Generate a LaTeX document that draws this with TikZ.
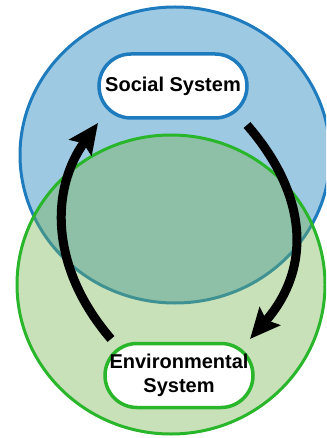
\documentclass[tikz,border=0pt]{standalone}
\usepackage{fontspec}
\setmainfont{Liberation Sans}
\usetikzlibrary{arrows.meta}
\definecolor{bluefill}{RGB}{157,201,226}
\definecolor{bluestroke}{RGB}{30,124,190}
\definecolor{greenfill}{RGB}{117,180,80}
\definecolor{greenstroke}{RGB}{42,182,42}
\tikzset{
  sysbox/.style={draw, line width=3.5pt, fill=white, rounded corners=32pt,
    minimum width=148pt, minimum height=64pt, inner sep=0pt, align=center,
    font=\fontsize{20}{24}\selectfont\bfseries},
  cyclearrow/.style={line width=9pt, -{Stealth[length=30pt,width=27pt,inset=5pt]}}
}
\begin{document}
\begin{tikzpicture}[x=1pt,y=-1pt]
\useasboundingbox (0,0) rectangle (326,438);
\begin{scope}
\clip (0,0) rectangle (326,438);
\draw[bluestroke, fill=bluefill, line width=3pt] (175,155) ellipse [x radius=155, y radius=148];
\draw[greenstroke, fill=greenfill, fill opacity=0.4, line width=3pt] (171,284.5) ellipse [x radius=154, y radius=149.5];
\end{scope}
\node[sysbox, draw=bluestroke] (soc) at (173,86) {Social System};
\node[sysbox, draw=greenstroke] (env) at (179,375.5) {Environmental\\System};
\coordinate (r1) at (247,125);
\coordinate (r2) at (250,339);
\coordinate (l1) at (111,339);
\coordinate (l2) at (98,123);
\draw[cyclearrow] (r1) .. controls (308,195) and (312,268) .. (r2);
\draw[cyclearrow] (l1) .. controls (50,268) and (50,190) .. (l2);
\end{tikzpicture}
\end{document}
